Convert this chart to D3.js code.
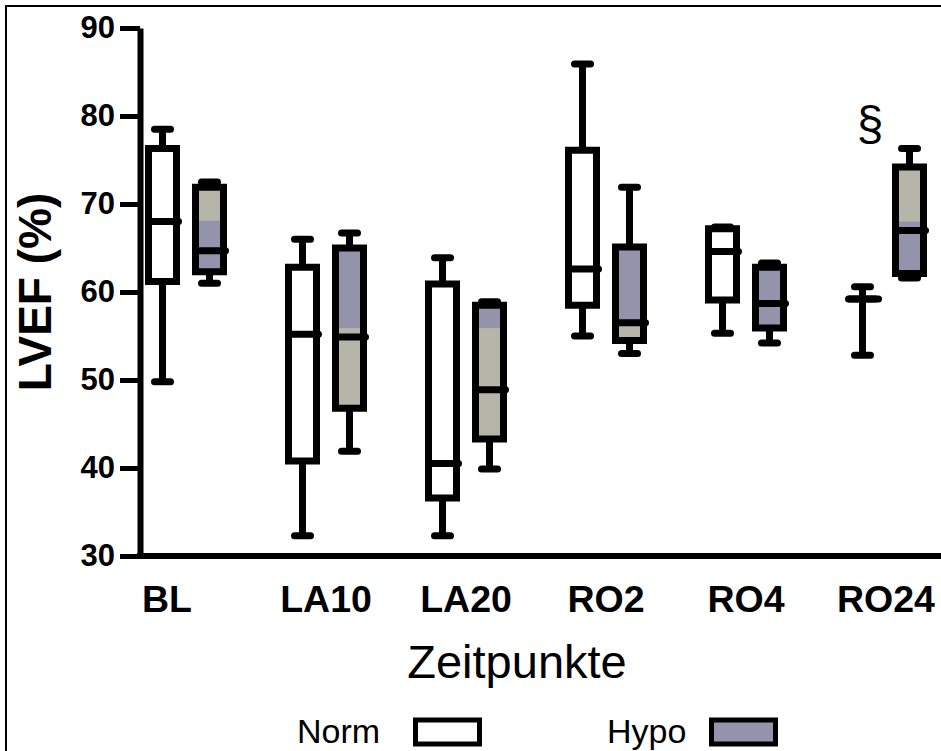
<!DOCTYPE html>
<html><head><meta charset="utf-8">
<script src="https://cdn.jsdelivr.net/npm/d3@7"></script>
<style>body{margin:0;background:#fff}svg{display:block}text{font-family:"Liberation Sans",Arial,sans-serif}</style>
</head><body>
<script>
const categories = ["BL","LA10","LA20","RO2","RO4","RO24"];
const groups = ["Norm","Hypo"];
// [min, q1, median, q3, max]
const normStats = [
  [49.8, 61.2, 68.0, 76.3, 78.5],
  [32.3, 40.8, 55.2, 62.8, 66.0],
  [32.3, 36.6, 40.5, 60.9, 63.9],
  [55.0, 58.5, 62.6, 76.1, 85.9],
  [55.3, 59.1, 64.6, 67.2, 67.4],
  [52.8, 59.2, 59.2, 59.2, 60.6]
];
const hypoStats = [
  [61.0, 62.3, 64.7, 71.9, 72.5],
  [41.9, 46.8, 54.9, 65.0, 66.7],
  [39.9, 43.3, 48.9, 58.5, 58.9],
  [53.0, 54.5, 56.5, 65.1, 71.9],
  [54.2, 55.9, 58.7, 62.8, 63.3],
  [61.6, 62.1, 67.0, 74.2, 76.3]
];
// lighter (olive-grey) part of the Hypo box fill, [from, to]
const hypoShade = [
  [68.1, 71.9],
  [46.8, 55.9],
  [43.3, 55.9],
  [54.5, 56.3],
  null,
  [68.0, 74.2]
];
const yTicks = [30,40,50,60,70,80,90];
const yTitle = "LVEF (%)";
const xTitle = "Zeitpunkte";
const marks = [{cat:"RO24", value:77.6, text:"§"}];

const W = 941, H = 751;
const svg = d3.select("body").append("svg").attr("width", W).attr("height", H);
svg.append("rect").attr("x",6).attr("y",6).attr("width",1000).attr("height",1000)
  .attr("fill","none").attr("stroke","#000").attr("stroke-width",2);

const y = d3.scaleLinear().domain([30,90]).range([556,28]);
const x = d3.scalePoint().domain(categories).range([186,886]);
const off = d3.scalePoint().domain(groups).range([-23.5,23.5]);
const bw = 28, sw = 7;
const BLUE = "#9393ab", OLIVE = "#b5b5a9";

// Y axis
const ax = svg.append("g").attr("transform","translate(140,0)")
  .call(d3.axisLeft(y).tickValues(yTicks).tickSize(20).tickSizeOuter(0).tickPadding(5));
ax.select(".domain").attr("stroke","#000").attr("stroke-width",6);
ax.selectAll(".tick line").attr("stroke","#000").attr("stroke-width",5);
ax.selectAll(".tick text").attr("font-size",31).attr("font-weight","bold").attr("fill","#000")
  .attr("font-family",'"Liberation Sans",Arial,sans-serif');
// X axis baseline
svg.append("line").attr("x1",137).attr("x2",945).attr("y1",y(30)).attr("y2",y(30))
  .attr("stroke","#000").attr("stroke-width",6);

svg.append("text").attr("transform",`translate(51,${(y(30)+y(90))/2}) rotate(-90)`)
  .attr("text-anchor","middle").attr("font-size",46).attr("font-weight","bold").text(yTitle);

// category labels
svg.selectAll(".cl").data(categories).join("text").attr("class","cl")
  .attr("x",(d,i)=>x(d) + (i===0?-19:0)).attr("y",612)
  .attr("text-anchor","middle").attr("font-size",37.5).attr("font-weight","bold").text(d=>d);

svg.append("text").attr("x",517).attr("y",678).attr("text-anchor","middle")
  .attr("font-size",47).text(xTitle);

function drawBox(cat, grp, s, shade) {
  const cx = x(cat) + off(grp);
  const x0 = cx - bw/2, x1 = cx + bw/2;
  const g = svg.append("g");
  const line = (a,b,c,d,cap) => g.append("line").attr("x1",a).attr("x2",b).attr("y1",c).attr("y2",d)
      .attr("stroke","#000").attr("stroke-width",sw).attr("stroke-linecap",cap||"butt");
  line(cx,cx,y(s[3]),y(s[4]));
  line(cx,cx,y(s[1]),y(s[0]));
  line(cx-8,cx+8,y(s[4]),y(s[4]),"round");
  line(cx-8,cx+8,y(s[0]),y(s[0]),"round");
  if (grp === "Hypo") {
    g.append("rect").attr("x",x0).attr("y",y(s[3])).attr("width",bw).attr("height",y(s[1])-y(s[3])).attr("fill",BLUE);
    if (shade) g.append("rect").attr("x",x0).attr("y",y(shade[1])).attr("width",bw)
      .attr("height",y(shade[0])-y(shade[1])).attr("fill",OLIVE);
  } else {
    g.append("rect").attr("x",x0).attr("y",y(s[3])).attr("width",bw).attr("height",Math.max(0,y(s[1])-y(s[3]))).attr("fill","#fff");
  }
  g.append("path").attr("d",`M${x0},${y(s[3])}H${x1}V${y(s[1])}H${x0}Z`)
    .attr("fill","none").attr("stroke","#000").attr("stroke-width",sw).attr("stroke-linejoin","miter");
  line(x0,x1+2,y(s[2]),y(s[2]),"round");
}
categories.forEach((c,i)=>{
  drawBox(c,"Norm",normStats[i],null);
  drawBox(c,"Hypo",hypoStats[i],hypoShade[i]);
});

marks.forEach(m=>{
  svg.append("text").attr("x",x(m.cat)-16).attr("y",y(m.value)+3).attr("text-anchor","middle")
    .attr("font-size",48).text(m.text);
});

// legend
const lg = [{name:"Norm", tx:297, rx:415.5, fill:"#fff"},{name:"Hypo", tx:607, rx:711.5, fill:BLUE}];
lg.forEach(l=>{
  svg.append("text").attr("x",l.tx).attr("y",743).attr("font-size",34).text(l.name);
  svg.append("rect").attr("x",l.rx).attr("y",720).attr("width",64).attr("height",24)
    .attr("fill",l.fill).attr("stroke","#000").attr("stroke-width",5);
});
</script>
</body></html>
